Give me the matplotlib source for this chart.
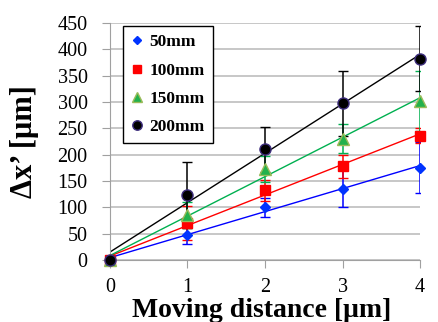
import numpy as np
import matplotlib.pyplot as plt
from matplotlib.lines import Line2D

plt.rcParams['font.family'] = ['Liberation Serif', 'DejaVu Serif']

distance = [0, 1, 2, 3, 4]
labels = ['50mm', '100mm', '150mm', '200mm']
d50 = [0, 48, 100, 135, 175]
d100 = [0, 70, 132, 178, 236]
d150 = [0, 85, 173, 230, 302]
d200 = [0, 123, 210, 297, 382]
e50 = [0, 18, 18, 35, 48]
e100 = [0, 33, 20, 22, 15]
e150 = [0, 25, 25, 28, 57]
e200 = [0, 63, 43, 62, 62]

series = [d50, d100, d150, d200]
errs = [e50, e100, e150, e200]
lcol = ['#0000FF', '#FF0000', '#00B050', '#000000']
mface = ['#0033FF', '#FF0000', '#22B14C', '#000000']
medge = ['#0033FF', '#FF0000', '#9BBB59', '#3F2F7F']
marks = ['D', 's', '^', 'o']
msz = [5, 7, 8, 8]

fig = plt.figure(figsize=(4.38, 3.22), dpi=100)
ax = fig.add_axes([0.251, 0.193, 0.708, 0.736])

x = np.array(distance)
for y, e, lc, fc, ec, m, s in zip(series, errs, lcol, mface, medge, marks, msz):
    k, b = np.polyfit(x, y, 1)
    ax.plot(x, k * x + b, color=lc, lw=1, zorder=2)
    ax.errorbar(x, y, yerr=e, fmt='none', ecolor=lc, elinewidth=1.1, capsize=3.5, zorder=3)
    ax.plot(x, y, ls='none', marker=m, ms=s, mfc=fc, mec=ec, mew=1, zorder=4, clip_on=False)

ax.set_xlim(0, 4)
ax.set_ylim(0, 450)
ax.set_xticks(distance)
ax.set_yticks(range(0, 451, 50))
ax.grid(axis='y', color='#BDBDBD', lw=1.2)
ax.set_axisbelow(True)
for sp in ['top', 'right']:
    ax.spines[sp].set_visible(False)
for sp in ['left', 'bottom']:
    ax.spines[sp].set_color('#A0A0A0')
ax.tick_params(axis='both', colors='#A0A0A0', labelcolor='black', labelsize=14.5, length=6)
ax.tick_params(axis='x', pad=7)
ax.tick_params(axis='y', pad=10)

ax.set_xlabel('Moving distance [μm]', fontsize=20, fontweight='bold', va='top')
ax.xaxis.set_label_coords(0.49, -0.16)
ax.set_ylabel('Δx’ [μm]', fontsize=22, fontweight='bold')
ax.yaxis.set_label_coords(-0.23, 0.5)

handles = [Line2D([], [], ls='none', marker=m, ms=s * 0.85, mfc=fc, mec=ec) for m, s, fc, ec in zip(marks, msz, mface, medge)]
leg = ax.legend(handles, labels, loc='upper left', bbox_to_anchor=(0.03, 1.0), prop={'weight': 'bold', 'size': 12.5},
                frameon=True, fancybox=False, edgecolor='black', framealpha=1, handlelength=0.8, handletextpad=0.3,
                labelspacing=0.7, borderpad=0.45, borderaxespad=0.2)
leg.get_frame().set_linewidth(1)

fig.savefig('out.png', dpi=100)
